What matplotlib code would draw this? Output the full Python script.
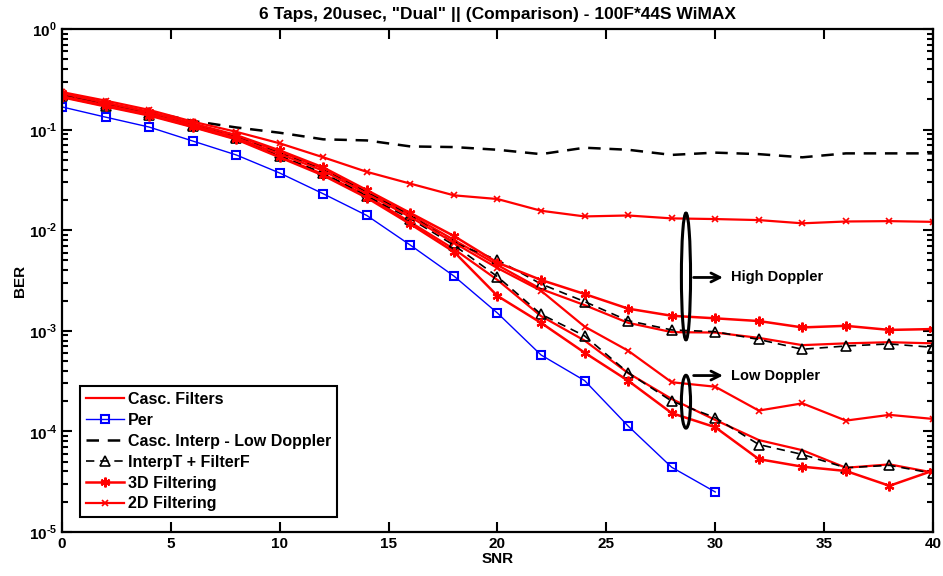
"""BER vs SNR: channel estimation comparison, 6 taps, 100F*44S WiMAX."""
import numpy as np
import matplotlib; matplotlib.use("Agg")
import matplotlib.pyplot as plt
from matplotlib.patches import Ellipse
from matplotlib.ticker import FixedLocator, FuncFormatter, LogLocator

plt.rcParams["font.family"] = ["Liberation Sans", "DejaVu Sans"]
plt.rcParams["font.weight"] = "bold"
plt.rcParams["mathtext.fontset"] = "custom"
plt.rcParams["mathtext.bf"] = "Liberation Sans:bold"
plt.rcParams["mathtext.rm"] = "Liberation Sans:bold"

snr = np.arange(0, 41, 2)
snr_per = np.arange(0, 31, 2)

per = [0.168, 0.133, 0.106, 0.077, 0.056, 0.037, 0.023, 0.014, 0.0071, 0.0035,
       0.0015, 5.75e-4, 3.2e-4, 1.13e-4, 4.4e-5, 2.5e-5]
casc_interp = [0.22, 0.18, 0.15, 0.122, 0.105, 0.093, 0.080, 0.078, 0.068, 0.067, 0.063,
               0.057, 0.066, 0.063, 0.056, 0.059, 0.057, 0.053, 0.058, 0.058, 0.058]
# high Doppler group
d2_high = [0.236, 0.194, 0.157, 0.12, 0.095, 0.073, 0.053, 0.038, 0.029, 0.0222, 0.0204,
           0.0156, 0.0137, 0.014, 0.0131, 0.0129, 0.0126, 0.0117, 0.0122, 0.0123, 0.0121]
d3_high = [0.23, 0.185, 0.15, 0.115, 0.088, 0.062, 0.042, 0.025, 0.0148, 0.00875, 0.00475,
           0.0032, 0.00232, 0.00166, 0.00141, 0.00133, 0.00125, 0.00108, 0.00112, 0.00102, 0.00104]
interp_high = [0.22, 0.178, 0.145, 0.112, 0.085, 0.058, 0.040, 0.024, 0.0140, 0.0075, 0.00506,
               0.00292, 0.00195, 0.00126, 0.00102, 0.00098, 0.00082, 0.000655, 0.000706, 0.00074, 0.000685]
casc_high = [0.225, 0.18, 0.147, 0.113, 0.087, 0.06, 0.041, 0.024, 0.0142, 0.008, 0.0045,
             0.0026, 0.0018, 0.0012, 0.00097, 0.00096, 0.00085, 0.00072, 0.00075, 0.00077, 0.00075]
# low Doppler group
d2_low = [0.215, 0.175, 0.142, 0.11, 0.083, 0.057, 0.039, 0.023, 0.0135, 0.0075, 0.0042,
          0.0025, 0.0011, 0.000634, 0.000308, 0.000278, 0.000161, 0.00019, 0.000128, 0.000146, 0.000133]
interp_low = [0.215, 0.172, 0.14, 0.108, 0.082, 0.055, 0.037, 0.022, 0.013, 0.0071, 0.00345,
              0.00146, 0.00089, 0.000383, 0.0002, 0.000137, 7.4e-5, 5.9e-5, 4.35e-5, 4.6e-5, 3.83e-5]
d3_low = [0.21, 0.17, 0.138, 0.106, 0.08, 0.053, 0.035, 0.021, 0.0115, 0.0061, 0.00222,
          0.0012, 0.000606, 0.000319, 0.000152, 0.00011, 5.3e-5, 4.46e-5, 4.04e-5, 2.88e-5, 4.07e-5]
casc_low = [0.212, 0.172, 0.14, 0.107, 0.081, 0.054, 0.036, 0.022, 0.012, 0.0065, 0.0032,
            0.0014, 0.0008, 0.00038, 0.00021, 0.00013, 8.2e-5, 6.5e-5, 4.35e-5, 4.7e-5, 3.9e-5]

RED, BLUE = "#ff0000", "#0000ff"
AST = (6, 2, 0)  # matlab-like asterisk

fig = plt.figure(figsize=(9.43, 5.76), dpi=100)
ax = fig.add_axes([0.0657, 0.0764, 0.9237, 0.8733])

ax.semilogy(snr, casc_high, color=RED, lw=1.6, label="Casc. Filters")
ax.semilogy(snr, casc_low, color=RED, lw=1.6, label="_nolegend_")
ax.semilogy(snr_per, per, color=BLUE, lw=1.0, marker="s", ms=6, mfc="none", mew=1.5, label="Per")
ax.semilogy(snr, casc_interp, color="black", lw=1.8, ls=(0, (5, 3.5)), label="Casc. Interp - Low Doppler")
ax.semilogy(snr, interp_high, color="black", lw=1.2, ls=(0, (5, 3.5)), marker="^", ms=7,
            mfc="none", mew=1.2, label="InterpT + FilterF")
ax.semilogy(snr, interp_low, color="black", lw=1.2, ls=(0, (5, 3.5)), marker="^", ms=7,
            mfc="none", mew=1.2, label="_nolegend_")
ax.semilogy(snr, d3_high, color=RED, lw=1.8, marker=AST, ms=7, mew=1.6, label="3D Filtering")
ax.semilogy(snr, d3_low, color=RED, lw=1.8, marker=AST, ms=7, mew=1.6, label="_nolegend_")
ax.semilogy(snr, d2_high, color=RED, lw=1.6, marker="x", ms=5, mew=1.2, label="2D Filtering")
ax.semilogy(snr, d2_low, color=RED, lw=1.6, marker="x", ms=5, mew=1.2, label="_nolegend_")

ax.set_xlim(0, 40); ax.set_ylim(1e-5, 1)
ax.xaxis.set_major_locator(FixedLocator(np.arange(0, 41, 5)))
ax.yaxis.set_major_locator(LogLocator(base=10, numticks=10))
ax.yaxis.set_minor_locator(LogLocator(base=10, subs=np.arange(2, 10), numticks=20))
ax.yaxis.set_major_formatter(FuncFormatter(
    lambda v, p: r"$\mathbf{10}^{\text{%d}}$" % round(np.log10(v))))
ax.tick_params(which="both", direction="in", top=True, right=True, labelsize=11, width=1.5)
ax.tick_params(which="major", length=7)
ax.tick_params(which="minor", length=4)
for s in ax.spines.values():
    s.set_linewidth(1.6)
for t in ax.get_xticklabels():
    t.set_fontweight("bold")

ax.set_xlabel("SNR", fontsize=11, fontweight="bold", labelpad=1)
ax.set_ylabel("BER", fontsize=11, fontweight="bold", labelpad=1)
ax.set_title('6 Taps, 20usec, "Dual" || (Comparison) - 100F*44S WiMAX',
             fontsize=12.5, fontweight="bold", pad=7)

# doppler group annotations (axes fractions)
ax.add_patch(Ellipse((0.7164, 0.508), 0.0105, 0.252, transform=ax.transAxes,
                     fill=False, ec="black", lw=2.2, zorder=5))
ax.add_patch(Ellipse((0.7164, 0.259), 0.0105, 0.105, transform=ax.transAxes,
                     fill=False, ec="black", lw=2.2, zorder=5))
for yy, txt in [(0.506, "High Doppler"), (0.311, "Low Doppler")]:
    ax.annotate("", xy=(0.762, yy), xytext=(0.722, yy), xycoords="axes fraction",
                arrowprops=dict(arrowstyle="->", lw=2, color="black", mutation_scale=16))
    ax.text(0.768, yy, txt, transform=ax.transAxes, fontsize=10.5, fontweight="bold",
            va="center", ha="left")

leg = ax.legend(loc="lower left", bbox_to_anchor=(0.0207, 0.0298), fontsize=11.5,
                fancybox=False, edgecolor="black", framealpha=1, borderaxespad=0,
                handlelength=2.4, handletextpad=0.25, labelspacing=0.37, borderpad=0.35)
leg.get_frame().set_linewidth(1.5)
for t in leg.get_texts():
    t.set_fontweight("bold")

fig.savefig("out.png", dpi=100)
print("saved out.png")
